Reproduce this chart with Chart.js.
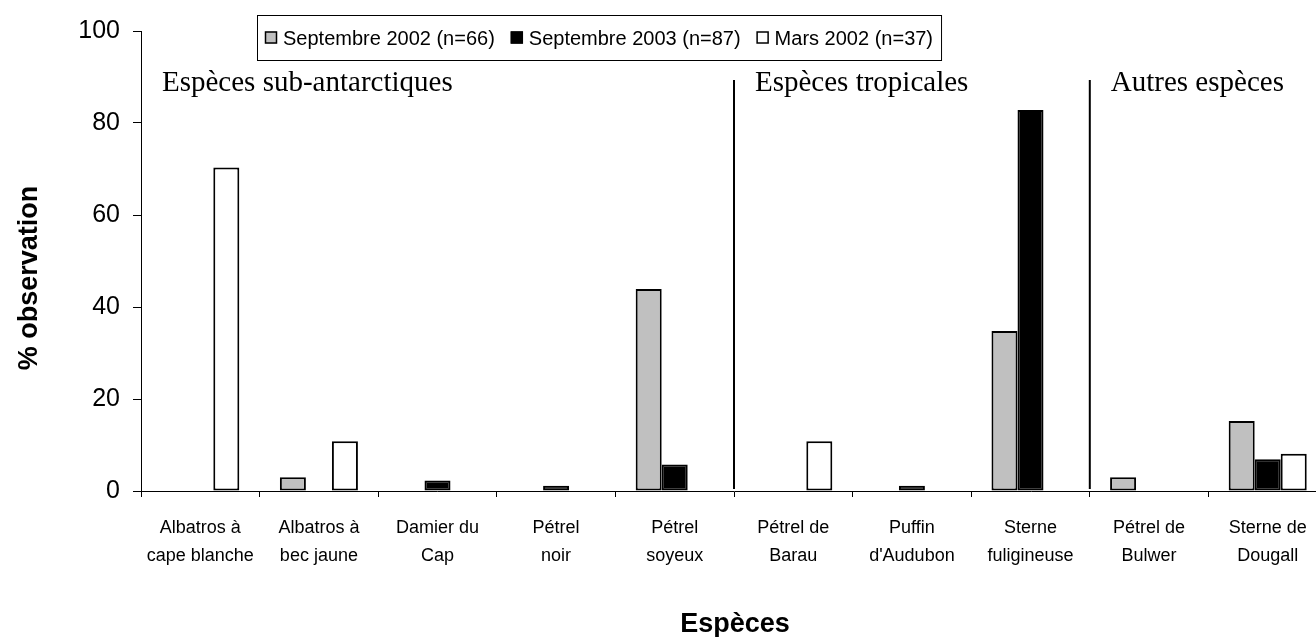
<!DOCTYPE html>
<html><head><meta charset="utf-8">
<script src="https://cdn.jsdelivr.net/npm/chart.js@4.4.1/dist/chart.umd.min.js"></script>
<style>html,body{margin:0;padding:0;background:#fff;overflow:hidden;width:1316px;height:637px}canvas{display:block}</style>
</head><body>
<canvas id="c" width="1330" height="637"></canvas>
<script>
// ---- data ----
const categories = [
  ["Albatros à","cape blanche"],["Albatros à","bec jaune"],["Damier du","Cap"],["Pétrel","noir"],["Pétrel","soyeux"],
  ["Pétrel de","Barau"],["Puffin","d'Audubon"],["Sterne","fuligineuse"],["Pétrel de","Bulwer"],["Sterne de","Dougall"]
];
const seriesNames = ["Septembre 2002 (n=66)","Septembre 2003 (n=87)","Mars 2002 (n=37)"];
const sept2002 = [0, 3.0, 0, 0, 43.9, 0, 0, 34.8, 3.0, 15.2];
const sept2003 = [0, 0, 2.3, 1.15, 5.75, 0, 1.15, 82.8, 0, 6.9];
const mars2002 = [70.3, 10.8, 0, 0, 0, 10.8, 0, 0, 0, 8.1];
const yTicks = [0, 20, 40, 60, 80, 100];
const groupLabels = ["Espèces sub-antarctiques","Espèces tropicales","Autres espèces"];
const groupStarts = [0, 5, 8];
const xTitle = "Espèces";
const yTitle = "% observation";

// ---- styles ----
const SANS = "'Liberation Sans', Arial, sans-serif";
const SERIF = "'Liberation Serif', 'Times New Roman', serif";
const fills = ["#c0c0c0", "#000000", "#ffffff"];

const decor = {
  id: 'decor',
  afterDraw(chart) {
    const ctx = chart.ctx, xs = chart.scales.x, ys = chart.scales.y, ca = chart.chartArea;
    ctx.save();
    // separators
    const sepX = [];
    groupStarts.forEach((g) => {
      if (g === 0) { sepX.push(ca.left); return; }
      const x = (xs.getPixelForValue(g - 1) + xs.getPixelForValue(g)) / 2;
      sepX.push(x);
      ctx.strokeStyle = '#000'; ctx.lineWidth = 2;
      ctx.beginPath(); ctx.moveTo(x, 80); ctx.lineTo(x, ys.getPixelForValue(0) - 2); ctx.stroke();
    });
    // group labels
    ctx.fillStyle = '#000';
    ctx.font = "29px " + SERIF;
    ctx.textAlign = 'left'; ctx.textBaseline = 'alphabetic';
    groupLabels.forEach((t, i) => ctx.fillText(t, sepX[i] + 21, 91));
    // legend
    ctx.font = "20px " + SANS;
    const boxL = 257, boxT = 15, boxH = 45, sq = 12, cy = boxT + boxH / 2;
    let x = boxL + 8;
    const items = chart.data.datasets.map((d, i) => ({label: d.label, fill: fills[i]}));
    items.forEach((it, i) => {
      ctx.fillStyle = it.fill; ctx.fillRect(x, cy - sq / 2, sq, sq);
      ctx.strokeStyle = '#000'; ctx.lineWidth = 1.5; ctx.strokeRect(x + 0.5, cy - sq / 2 + 0.5, sq - 1, sq - 1);
      x += sq + 6;
      ctx.fillStyle = '#000';
      ctx.fillText(it.label, x, cy + 7.2);
      x += ctx.measureText(it.label).width + (i < items.length - 1 ? 16 : 8);
    });
    ctx.strokeStyle = '#000'; ctx.lineWidth = 1;
    ctx.strokeRect(boxL + 0.5, boxT + 0.5, x - boxL, boxH);
    // axis titles
    ctx.fillStyle = '#000';
    ctx.font = "bold 27px " + SANS;
    ctx.textAlign = 'center';
    ctx.fillText(xTitle, 735, 632);
    ctx.save();
    ctx.translate(37, 278);
    ctx.rotate(-Math.PI / 2);
    ctx.font = "bold 27px " + SANS;
    ctx.fillText(yTitle, 0, 0);
    ctx.restore();
    ctx.restore();
  }
};

const mk = (i, data) => ({
  label: seriesNames[i],
  data: data,
  backgroundColor: fills[i],
  borderColor: '#000',
  borderWidth: c => (c.raw ? 2 : 0),
  borderSkipped: false,
  categoryPercentage: 0.658,
  barPercentage: 1.0
});

new Chart(document.getElementById('c'), {
  type: 'bar',
  data: { labels: categories, datasets: [mk(0, sept2002), mk(1, sept2003), mk(2, mars2002)] },
  plugins: [decor],
  options: {
    responsive: false, animation: false, devicePixelRatio: 1,
    layout: { padding: { left: 0, right: 3, top: 31, bottom: 0 } },
    plugins: { legend: { display: false }, tooltip: { enabled: false }, title: { display: false } },
    scales: {
      x: {
        offset: true,
        grid: { offset: true, drawOnChartArea: false, drawTicks: true, tickLength: 6, color: '#000', lineWidth: 1 },
        border: { color: '#000', width: 1 },
        ticks: { color: '#000', font: { family: SANS, size: 18, lineHeight: 28 / 18 }, padding: 17, maxRotation: 0, autoSkip: false },
        afterFit(s) { s.height = 146; }
      },
      y: {
        min: 0, max: 100,
        afterBuildTicks(s) { s.ticks = yTicks.map(v => ({ value: v })); },
        grid: { drawOnChartArea: false, drawTicks: true, tickLength: 8, color: '#000', lineWidth: 1 },
        border: { color: '#000', width: 1 },
        ticks: { color: '#000', font: { family: SANS, size: 25 }, padding: 13 },
        afterFit(s) { s.width = 141; }
      }
    }
  }
});
</script>
</body></html>
